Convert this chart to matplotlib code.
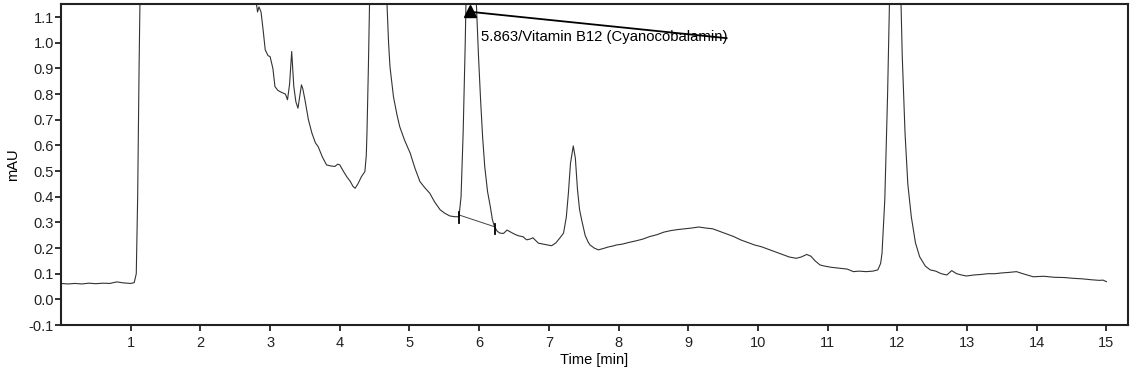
import matplotlib
matplotlib.use("Agg")
import matplotlib.pyplot as plt
import numpy as np

plt.rcParams['font.family'] = ['Liberation Sans', 'DejaVu Sans']

# retention time [min] and detector signal [mAU]
time_min = np.array([
    0.00, 0.10, 0.20, 0.30, 0.40, 0.50, 0.60, 0.70, 0.80, 0.85, 0.90, 1.00, 1.05,
    1.08, 1.10, 1.12, 1.14, 1.20, 1.50, 2.50, 2.75, 2.80, 2.82, 2.84, 2.87, 2.90,
    2.93, 2.97, 3.00, 3.04, 3.07, 3.11, 3.14, 3.19, 3.22, 3.25, 3.28, 3.31, 3.34,
    3.37, 3.40, 3.43, 3.45, 3.47, 3.50, 3.55, 3.60, 3.65, 3.69, 3.75, 3.81, 3.87,
    3.93, 3.97, 4.00, 4.05, 4.10, 4.15, 4.19, 4.22, 4.26, 4.31, 4.36, 4.38, 4.39,
    4.41, 4.43, 4.47, 4.55, 4.63, 4.67, 4.70, 4.72, 4.77, 4.82, 4.86, 4.93, 5.01,
    5.08, 5.15, 5.22, 5.29, 5.36, 5.44, 5.51, 5.58, 5.65, 5.71, 5.74, 5.77, 5.80,
    5.82, 5.86, 5.92, 5.96, 5.99, 6.02, 6.05, 6.08, 6.12, 6.16, 6.19, 6.22, 6.26,
    6.30, 6.35, 6.40, 6.44, 6.50, 6.56, 6.63, 6.68, 6.73, 6.77, 6.80, 6.85, 6.92,
    6.98, 7.04, 7.10, 7.16, 7.21, 7.25, 7.28, 7.31, 7.35, 7.38, 7.41, 7.44, 7.47,
    7.52, 7.56, 7.59, 7.65, 7.71, 7.78, 7.85, 7.92, 7.97, 8.05, 8.15, 8.25, 8.35,
    8.45, 8.55, 8.65, 8.75, 8.85, 8.95, 9.05, 9.15, 9.25, 9.35, 9.45, 9.55, 9.65,
    9.75, 9.85, 9.95, 10.05, 10.15, 10.25, 10.35, 10.45, 10.55, 10.62, 10.70,
    10.76, 10.82, 10.89, 10.95, 11.05, 11.18, 11.28, 11.37, 11.45, 11.55, 11.65,
    11.72, 11.76, 11.78, 11.82, 11.86, 11.89, 11.95, 12.00, 12.04, 12.07, 12.11,
    12.15, 12.20, 12.26, 12.32, 12.40, 12.47, 12.55, 12.63, 12.71, 12.78, 12.85,
    12.92, 12.99, 13.10, 13.20, 13.30, 13.40, 13.50, 13.60, 13.71, 13.80, 13.95,
    14.10, 14.25, 14.40, 14.52, 14.65, 14.80, 14.90, 14.95, 15.00,
])
signal_mau = np.array([
    0.062, 0.060, 0.062, 0.060, 0.063, 0.061, 0.063, 0.062, 0.068, 0.066, 0.064, 0.062, 0.065,
    0.10, 0.40, 0.90, 1.30, 2.50, 3.00, 3.00, 1.40, 1.16, 1.12, 1.14, 1.12, 1.05,
    0.973, 0.95, 0.946, 0.90, 0.829, 0.815, 0.81, 0.804, 0.80, 0.778, 0.84, 0.966, 0.83,
    0.77, 0.745, 0.80, 0.836, 0.82, 0.778, 0.70, 0.648, 0.61, 0.595, 0.555, 0.524, 0.52,
    0.518, 0.527, 0.524, 0.50, 0.478, 0.46, 0.44, 0.433, 0.45, 0.478, 0.498, 0.56, 0.648,
    0.90, 1.20, 2.50, 3.00, 2.00, 1.20, 1.00, 0.907, 0.79, 0.72, 0.673, 0.62, 0.57,
    0.51, 0.459, 0.435, 0.414, 0.38, 0.349, 0.335, 0.325, 0.322, 0.322, 0.40, 0.65, 1.00,
    1.30, 1.60, 1.50, 1.15, 0.95, 0.778, 0.63, 0.517, 0.42, 0.361, 0.31, 0.283, 0.265,
    0.258, 0.257, 0.27, 0.264, 0.255, 0.248, 0.244, 0.232, 0.235, 0.24, 0.232, 0.219, 0.215,
    0.212, 0.209, 0.22, 0.24, 0.258, 0.32, 0.414, 0.53, 0.598, 0.55, 0.43, 0.35, 0.31,
    0.25, 0.225, 0.212, 0.20, 0.193, 0.198, 0.204, 0.208, 0.212, 0.215, 0.222, 0.228, 0.235,
    0.245, 0.252, 0.262, 0.268, 0.272, 0.275, 0.278, 0.282, 0.278, 0.275, 0.265, 0.255, 0.245,
    0.232, 0.222, 0.212, 0.205, 0.195, 0.185, 0.175, 0.165, 0.16, 0.165, 0.175,
    0.168, 0.15, 0.134, 0.13, 0.125, 0.121, 0.118, 0.108, 0.11, 0.108, 0.11,
    0.115, 0.14, 0.18, 0.39, 0.80, 1.20, 2.20, 2.50, 1.30, 0.95, 0.649,
    0.45, 0.322, 0.22, 0.166, 0.13, 0.115, 0.11, 0.10, 0.095, 0.112, 0.10,
    0.095, 0.091, 0.095, 0.097, 0.10, 0.10, 0.103, 0.105, 0.108, 0.10, 0.088,
    0.09, 0.086, 0.085, 0.082, 0.08, 0.076, 0.074, 0.075, 0.069,
])

# integration baseline of the labelled peak
base_t = [5.71, 6.22]
base_v = [0.329, 0.283]

peak_rt = 5.863
peak_label = "5.863/Vitamin B12 (Cyanocobalamin)"

fig = plt.figure(figsize=(11.36, 3.74), dpi=100)
ax = fig.add_axes([0.0537, 0.131, 0.9393, 0.8575])

ax.plot(time_min, signal_mau, color="#333333", lw=0.8)

# baseline and its start/end marks
ax.plot(base_t, base_v, color="#444444", lw=0.7)
for bt, bv in zip(base_t, base_v):
    ax.plot([bt, bt], [bv - 0.03, bv + 0.01], color="black", lw=1.3)

# peak marker + label leader line
ax.plot([peak_rt, 9.55], [1.121, 1.018], color="black", lw=1.3, clip_on=False)
ax.plot([peak_rt], [1.125], marker="^", color="black", markersize=9, clip_on=False)
ax.text(6.03, 1.024, peak_label, fontsize=10.7, va="center", ha="left")

ax.set_xlim(0, 15.31)
ax.set_ylim(-0.1, 1.15)
ax.set_xticks(np.arange(1, 16))
ax.set_yticks(np.round(np.arange(-0.1, 1.11, 0.1), 1))
ax.set_yticklabels([f"{v:.1f}" for v in np.arange(-0.1, 1.11, 0.1)])
ax.tick_params(direction="out", length=4, width=1.3, labelsize=10.5, colors="#222222", pad=1)
ax.tick_params(axis="x", pad=4)

for s in ax.spines.values():
    s.set_linewidth(1.5)
    s.set_color("#222222")

ax.set_xlabel("Time [min]", fontsize=10.5, labelpad=2)
ax.set_ylabel("mAU", fontsize=10.5, labelpad=6)

fig.savefig("out.png", dpi=100)
